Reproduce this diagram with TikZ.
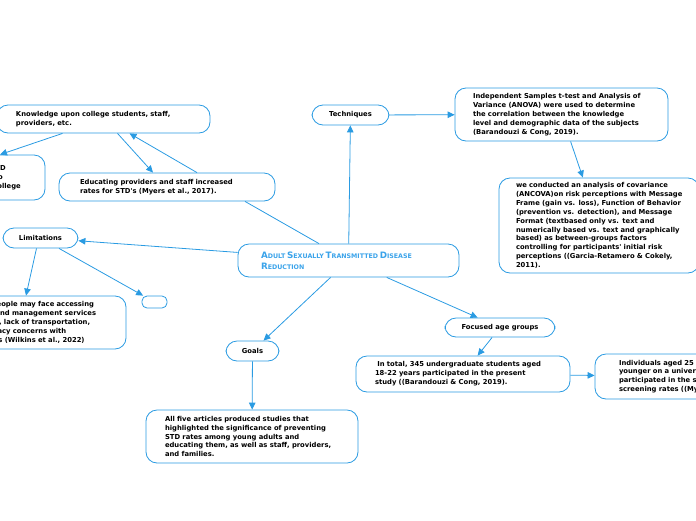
\documentclass[tikz,border=0pt]{standalone}
\usepackage{fontspec}
\usepackage{tikz}
\usetikzlibrary{arrows.meta}
\usepackage{xcolor}
\newfontfamily\mapfont{DejaVu Sans}
\definecolor{mapblue}{HTML}{2A9BE2}
\definecolor{titleblue}{HTML}{3AA3EA}
\newcommand\capword[2]{{\fontsize{8.8}{10.5}\selectfont #1}{\fontsize{6.3}{10.5}\selectfont #2}}

\begin{document}
\begin{tikzpicture} [x=1pt, y=-1pt,
	bubble/.style={draw=mapblue, line width=0.8pt, rounded corners=11pt, fill=white,
		font=\mapfont\bfseries\fontsize{6.8}{8.9}\selectfont, align=left, inner ysep=0pt},
	tag/.style={bubble, align=center, inner xsep=0pt},
	link/.style={mapblue, line width=0.8pt, -{Triangle[length=7pt, width=6.5pt]}}]
	\useasboundingbox (0, 0) rectangle (696, 520);
	\clip (0, 0) rectangle (696, 520);

	\node [bubble, minimum width=221pt, minimum height=33pt, inner xsep=23pt, text width=175pt,
		text=titleblue, font=\mapfont\bfseries] (reduction) at (348.5, 260.5)
		{\capword{A}{DULT}\,\capword{S}{EXUALLY}\,\capword{T}{RANSMITTED}\,\capword{D}{ISEASE}\\[-1pt]\capword{R}{EDUCTION}};

	\node [tag, minimum width=77pt, minimum height=20pt] (techniques) at (350.5, 115) {Techniques};
	\node [bubble, minimum width=213pt, minimum height=53pt, inner xsep=18pt, text width=177pt] (anova) at (561.5, 114.5)
		{Independent Samples t-test and Analysis of\\Variance (ANOVA) were used to determine\\the correlation between the knowledge\\level and demographic data of the subjects\\(Barandouzi \& Cong, 2019).};
	\node [bubble, minimum width=200pt, minimum height=95pt, inner xsep=17pt, text width=166pt] (ancova) at (599, 225.5)
		{we conducted an analysis of covariance\\\mbox{(ANCOVA)on risk perceptions with Message}\\\mbox{Frame (gain vs. loss), Function of Behavior}\\(prevention vs. detection), and Message\\Format (textbased only vs. text and\\\mbox{numerically based vs. text and graphically}\\based) as between-groups factors\\controlling for participants' initial risk\\\mbox{perceptions ((Garcia-Retamero \& Cokely,}\\2011).};

	\node [tag, minimum width=110pt, minimum height=19pt] (agegroups) at (500, 327.5) {Focused age groups};
	\node [bubble, minimum width=214pt, minimum height=36pt, inner xsep=19pt, text width=176pt] (total) at (463, 374)
		{\ In total, 345 undergraduate students aged\\18-22 years participated in the present\\study ((Barandouzi \& Cong, 2019).};
	\node [bubble, minimum width=198pt, minimum height=45pt, inner xsep=24pt, text width=150pt] (younger) at (694, 376.5)
		{Individuals aged 25 and\\younger on a university campus\\participated in the study of STD\\screening rates ((Myers et al., 2017).};

	\node [tag, minimum width=53pt, minimum height=20pt] (goals) at (252.5, 351) {Goals};
	\node [bubble, minimum width=212pt, minimum height=53pt, inner xsep=19pt, text width=174pt] (articles) at (252, 436.5)
		{All five articles produced studies that\\highlighted the significance of preventing\\STD rates among young adults and\\educating them, as well as staff, providers,\\and families.};

	\node [tag, minimum width=75pt, minimum height=20pt] (limitations) at (40.5, 238) {Limitations};
	\node [tag, minimum width=25pt, minimum height=12pt, rounded corners=5pt] (blank) at (154.5, 302) {};
	\node [bubble, minimum width=184pt, minimum height=53pt, inner xsep=24pt, text width=136pt] (access) at (34, 322.5)
		{Young people may face accessing\\testing and management services\\difficulty, lack of transportation,\\and privacy concerns with\\providers (Wilkins et al., 2022)};

	\node [bubble, minimum width=213pt, minimum height=28pt, inner xsep=19pt, text width=175pt] (knowledge) at (103.5, 119)
		{Knowledge upon college students, staff,\\providers, etc.};
	\node [bubble, minimum width=100pt, minimum height=45pt, inner xsep=20pt, text width=60pt] (unaware) at (-5, 177.5)
		{about \,STD\\related to\\among college};
	\node [bubble, minimum width=216pt, minimum height=28pt, inner xsep=21pt, text width=174pt] (educating) at (167, 187)
		{Educating providers and staff increased\\rates for STD's (Myers et al., 2017).};

	\draw [link] (reduction) -- (techniques);
	\draw [link] (techniques) -- (anova);
	\draw [link] (anova) -- (ancova);
	\draw [link] (reduction) -- (agegroups);
	\draw [link] (agegroups) -- (total);
	\draw [link] (total) -- (younger);
	\draw [link] (reduction) -- (goals);
	\draw [link] (goals) -- (articles);
	\draw [link] (reduction) -- (limitations);
	\draw [link] ([xshift=-4pt]limitations.south) -- ([xshift=-8pt]access.north);
	\draw [link] (limitations) -- (blank);
	\draw [mapblue, line width=0.8pt] ([xshift=-29.5pt]reduction.north) -- ([xshift=78pt]educating.south);
	\draw [link] ([xshift=30pt]educating.north) -- ([xshift=26pt]knowledge.south);
	\draw [link] ([xshift=14pt]knowledge.south) -- ([xshift=-14pt]educating.north);
	\draw [link] ([xshift=-41pt]knowledge.south) -- ([xshift=5pt]unaware.north);
\end{tikzpicture}
\end{document}
